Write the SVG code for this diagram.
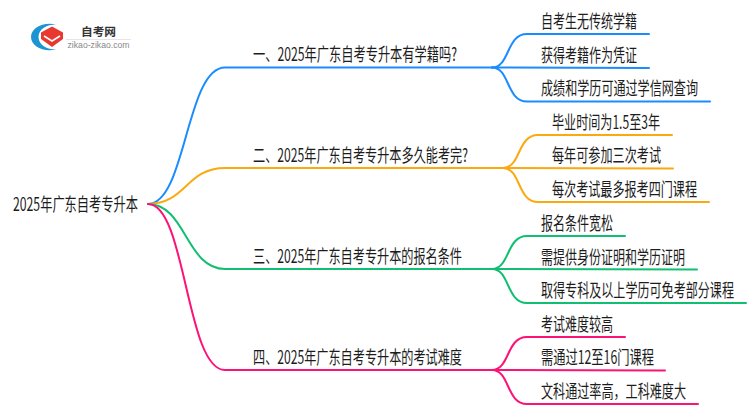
<svg xmlns="http://www.w3.org/2000/svg" width="750" height="410" viewBox="0 0 750 410">
<style>
text{font-family:"Noto Sans CJK SC","Noto Sans",sans-serif;fill:#1c1c1c;font-size:12px}
.c{fill:none;stroke-width:2;stroke-linecap:round}
.b{stroke:#1a8cff}.o{stroke:#fba911}.g{stroke:#12bf72}.p{stroke:#fd1276}
</style>
<rect width="750" height="410" fill="#fff"/>
<g id="logo">
<path d="M56 24.500C43 21.500 31 28 31 37C31 46 43 52.500 56 49.500C47 49.500 38.500 45 38.500 37C38.500 29 47 24.500 56 24.500Z" fill="#1d95d2"/>
<path d="M52 26.500L63 32.500V39L52 47L41 39V32.500Z" fill="#e8382f"/>
<path d="M44 36L52 41L60 36" fill="none" stroke="#fff" stroke-width="1.500"/>
<text x="81" y="36" style="font-size:11.500px;font-weight:700;fill:#333" textLength="35" lengthAdjust="spacingAndGlyphs">自考网</text>
<rect x="66" y="39" width="65" height="1" fill="#e6e6e6"/>
<text x="67.500" y="48" style="font-size:8.500px;fill:#888;font-family:'Liberation Sans',sans-serif" textLength="62" lengthAdjust="spacingAndGlyphs">zikao-zikao.com</text>
</g>
<g id="connectors">
<path class="c b" d="M148 204C186 204 186 67.500 225 67.500H492"/>
<path class="c b" d="M492 67.500C510 67.500 506 34 527 34H649"/>
<path class="c b" d="M492 67.500L649 68"/>
<path class="c b" d="M492 67.500C510 67.500 506 101.500 527 101.500H710"/>
<path class="c o" d="M148 204C186 204 186 168 225 168H503"/>
<path class="c o" d="M503 168C521 168 517 135 538 135H672"/>
<path class="c o" d="M503 168L673 168.500"/>
<path class="c o" d="M503 168C521 168 517 202 538 202H709"/>
<path class="c g" d="M148 204C186 204 186 269 225 269H492"/>
<path class="c g" d="M492 269C510 269 506 236 527 236H625"/>
<path class="c g" d="M492 269L697 269.500"/>
<path class="c g" d="M492 269C510 269 506 303 527 303H746"/>
<path class="c p" d="M148 204C186 204 186 370 225 370H492"/>
<path class="c p" d="M492 370C510 370 506 337 527 337H625"/>
<path class="c p" d="M492 370L665 370.500"/>
<path class="c p" d="M492 370C510 370 506 404 527 404H698"/>
</g>
<g id="root"><text transform="translate(13 210.500) scale(1 1.500)" textLength="125" lengthAdjust="spacingAndGlyphs">2025年广东自考专升本</text></g>
<g id="n1"><text transform="translate(253 60.500) scale(1 1.500)" textLength="204" lengthAdjust="spacingAndGlyphs">一、2025年广东自考专升本有学籍吗?</text></g>
<g id="n1a"><text transform="translate(541 27.500) scale(1 1.500)" textLength="96" lengthAdjust="spacingAndGlyphs">自考生无传统学籍</text></g>
<g id="n1b"><text transform="translate(541 61.500) scale(1 1.500)" textLength="96" lengthAdjust="spacingAndGlyphs">获得考籍作为凭证</text></g>
<g id="n1c"><text transform="translate(541 94.500) scale(1 1.500)" textLength="157" lengthAdjust="spacingAndGlyphs">成绩和学历可通过学信网查询</text></g>
<g id="n2"><text transform="translate(253 161.500) scale(1 1.500)" textLength="215" lengthAdjust="spacingAndGlyphs">二、2025年广东自考专升本多久能考完?</text></g>
<g id="n2a"><text transform="translate(552 128.500) scale(1 1.500)" textLength="108" lengthAdjust="spacingAndGlyphs">毕业时间为1.5至3年</text></g>
<g id="n2b"><text transform="translate(552 161.500) scale(1 1.500)" textLength="109" lengthAdjust="spacingAndGlyphs">每年可参加三次考试</text></g>
<g id="n2c"><text transform="translate(552 195.500) scale(1 1.500)" textLength="145" lengthAdjust="spacingAndGlyphs">每次考试最多报考四门课程</text></g>
<g id="n3"><text transform="translate(253 262.500) scale(1 1.500)" textLength="209" lengthAdjust="spacingAndGlyphs">三、2025年广东自考专升本的报名条件</text></g>
<g id="n3a"><text transform="translate(541 229.500) scale(1 1.500)" textLength="72" lengthAdjust="spacingAndGlyphs">报名条件宽松</text></g>
<g id="n3b"><text transform="translate(541 263.500) scale(1 1.500)" textLength="144" lengthAdjust="spacingAndGlyphs">需提供身份证明和学历证明</text></g>
<g id="n3c"><text transform="translate(541 296.500) scale(1 1.500)" textLength="193" lengthAdjust="spacingAndGlyphs">取得专科及以上学历可免考部分课程</text></g>
<g id="n4"><text transform="translate(253 363.500) scale(1 1.500)" textLength="209" lengthAdjust="spacingAndGlyphs">四、2025年广东自考专升本的考试难度</text></g>
<g id="n4a"><text transform="translate(541 330.500) scale(1 1.500)" textLength="72" lengthAdjust="spacingAndGlyphs">考试难度较高</text></g>
<g id="n4b"><text transform="translate(541 363.500) scale(1 1.500)" textLength="113" lengthAdjust="spacingAndGlyphs">需通过12至16门课程</text></g>
<g id="n4c"><text transform="translate(541 397.500) scale(1 1.500)" textLength="145" lengthAdjust="spacingAndGlyphs">文科通过率高&#65292;工科难度大</text></g>
</svg>
